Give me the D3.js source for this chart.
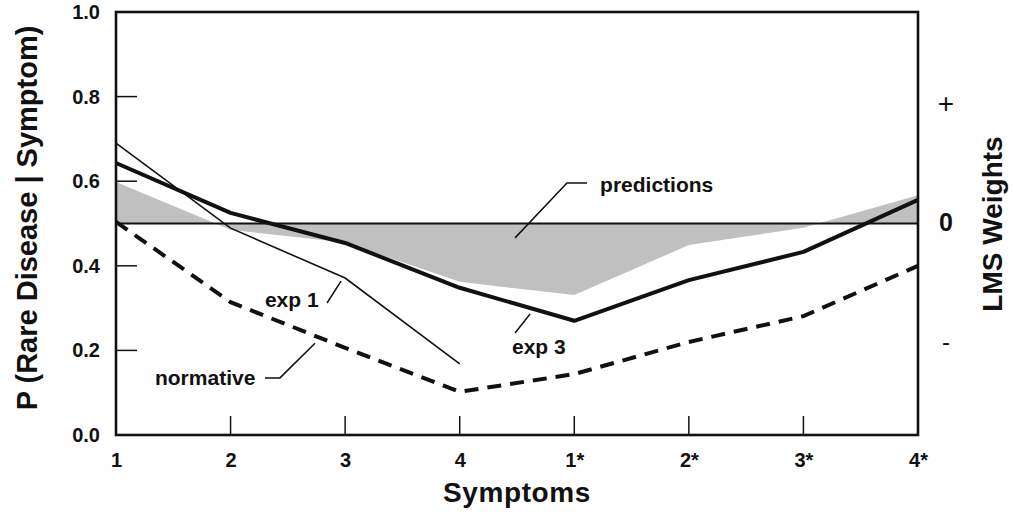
<!DOCTYPE html>
<html><head><meta charset="utf-8">
<script src="https://cdn.jsdelivr.net/npm/d3@7"></script>
<style>
html,body{margin:0;padding:0;background:#fff;}
text{font-family:"Liberation Sans",Arial,Helvetica,sans-serif;fill:#111;}
</style></head>
<body><svg id="chart" width="1013" height="512"></svg>
<script>
const symptoms = ["1","2","3","4","1*","2*","3*","4*"];
const exp3 = [0.643, 0.525, 0.454, 0.348, 0.270, 0.366, 0.433, 0.556];
const exp1 = [0.690, 0.489, 0.371, 0.168];
const normative = [0.504, 0.314, 0.206, 0.102, 0.144, 0.220, 0.281, 0.400];
const predictions = [0.598, 0.485, 0.455, 0.362, 0.331, 0.449, 0.490, 0.567];
const yTicks = [0.0, 0.2, 0.4, 0.6, 0.8, 1.0];
const weightValues = [1, 0, -1];
const weightLabels = ["+", "0", "-"];
const baseline = 0.5;

const svg = d3.select("#chart");
const L = 116, R = 918, T = 12, B = 435;
const x = d3.scaleLinear().domain([0, symptoms.length - 1]).range([L, R]);
const y = d3.scaleLinear().domain([0, 1]).range([B, T]);
const yR = d3.scaleLinear().domain([-1, 1]).range([y(0.22), y(0.785)]);

// shaded predictions area
const area = d3.area().x((d,i)=>x(i)).y0(y(baseline)).y1(d=>y(d));
svg.append("path").datum(predictions).attr("d", area).attr("fill", "#c0c0c0");

// baseline
svg.append("line").attr("x1", x(0)).attr("x2", x(7)).attr("y1", y(baseline)).attr("y2", y(baseline))
  .attr("stroke", "#111").attr("stroke-width", 2);

const line = d3.line().x((d,i)=>x(i)).y(d=>y(d));
svg.append("path").datum(exp1).attr("d", line).attr("fill","none").attr("stroke","#111").attr("stroke-width",1.6);
svg.append("path").datum(normative).attr("d", line).attr("fill","none").attr("stroke","#111")
  .attr("stroke-width",4).attr("stroke-dasharray","14,9");
svg.append("path").datum(exp3).attr("d", line).attr("fill","none").attr("stroke","#111")
  .attr("stroke-width",4).attr("stroke-linejoin","round");

// axes (inner ticks)
const yAxis = d3.axisLeft(y).tickValues(yTicks).tickFormat(d3.format(".1f")).tickSize(0).tickPadding(16);
const gy = svg.append("g").attr("transform", `translate(${L},0)`).call(yAxis);
gy.select(".domain").remove();
gy.selectAll("text").attr("font-size", 20).attr("font-weight", "bold").style("font-family","Liberation Sans, Arial, sans-serif");
svg.append("g").selectAll("line").data(yTicks.filter(d=>d>0 && d<1)).join("line")
  .attr("x1", L).attr("x2", L+21).attr("y1", d=>y(d)).attr("y2", d=>y(d))
  .attr("stroke","#111").attr("stroke-width",1.5);

const xAxis = d3.axisBottom(x).tickValues(d3.range(symptoms.length)).tickFormat(i=>symptoms[i]).tickSize(0).tickPadding(18);
const gx = svg.append("g").attr("transform", `translate(0,${B})`).call(xAxis);
gx.select(".domain").remove();
gx.selectAll("text").attr("font-size", 20).attr("font-weight", "bold").style("font-family","Liberation Sans, Arial, sans-serif");
svg.append("g").selectAll("line").data(d3.range(1, symptoms.length-1)).join("line")
  .attr("x1", d=>x(d)).attr("x2", d=>x(d)).attr("y1", B).attr("y2", B-19)
  .attr("stroke","#111").attr("stroke-width",1.5);

// frame
svg.append("rect").attr("x", L).attr("y", T).attr("width", R-L).attr("height", B-T)
  .attr("fill","none").attr("stroke","#111").attr("stroke-width",2.6);

// right labels
svg.append("g").selectAll("text").data(weightValues).join("text")
  .attr("x", 946).attr("y", d=>yR(d)).attr("dy","0.35em").attr("text-anchor","middle")
  .attr("font-size", d=>d===0?25:(d>0?28:24)).attr("font-weight", d=>d===0?"bold":"normal")
  .text((d,i)=>weightLabels[i]);

// titles
svg.append("text").attr("x", 517).attr("y", 502).attr("text-anchor","middle")
  .attr("font-size", 28).attr("font-weight","bold").attr("letter-spacing", 0.6).text("Symptoms");
svg.append("text").attr("transform","translate(37,218) rotate(-90)").attr("text-anchor","middle")
  .attr("font-size", 29).attr("font-weight","bold").text("P (Rare Disease | Symptom)");
svg.append("text").attr("transform","translate(1002,224) rotate(-90)").attr("text-anchor","middle")
  .attr("font-size", 28).attr("font-weight","bold").text("LMS Weights");

// annotations
const ann = [
  {label:"predictions", tx:4.225, ty:0.574, pts:[[4.111,0.596],[3.936,0.596],[3.483,0.466]]},
  {label:"exp 3", tx:3.456, ty:0.191, pts:[[3.483,0.241],[3.614,0.286]]},
  {label:"exp 1", tx:1.30, ty:0.303, pts:[[1.842,0.312],[1.964,0.364]]},
  {label:"normative", tx:0.340, ty:0.118, pts:[[1.30,0.135],[1.431,0.135],[1.737,0.217]]}
];
const lead = d3.line().x(d=>x(d[0])).y(d=>y(d[1]));
ann.forEach(a=>{
  svg.append("path").attr("d", lead(a.pts)).attr("fill","none").attr("stroke","#111").attr("stroke-width",1.5);
  svg.append("text").attr("x", x(a.tx)).attr("y", y(a.ty)).attr("font-size", 21).attr("font-weight","bold").text(a.label);
});
</script></body></html>
